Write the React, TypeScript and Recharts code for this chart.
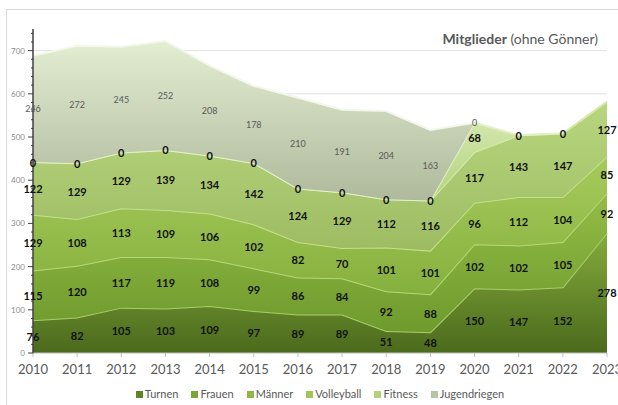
import { AreaChart, Area, XAxis, YAxis, CartesianGrid, Legend, LabelList } from 'recharts';

const years = ['2010', '2011', '2012', '2013', '2014', '2015', '2016', '2017', '2018', '2019', '2020', '2021', '2022', '2023'];
const turnen = [76, 82, 105, 103, 109, 97, 89, 89, 51, 48, 150, 147, 152, 278];
const frauen = [115, 120, 117, 119, 108, 99, 86, 84, 92, 88, 102, 102, 105, 92];
const maenner = [129, 108, 113, 109, 106, 102, 82, 70, 101, 101, 96, 112, 104, 85];
const volleyball = [122, 129, 129, 139, 134, 142, 124, 129, 112, 116, 117, 143, 147, 127];
const fitness = [0, 0, 0, 0, 0, 0, 0, 0, 0, 0, 68, 0, 0, null];
const jugendriegen = [246, 272, 245, 252, 208, 178, 210, 191, 204, 163, 0, null, null, null];

const yTicks = [0, 20, 40, 60, 80, 100, 120, 140, 160, 180, 200, 220, 240, 260, 280, 300, 320, 340, 360, 380,
  400, 420, 440, 460, 480, 500, 520, 540, 560, 580, 600, 620, 640, 660, 680, 700, 720, 740];
const gridValues = [100, 200, 300, 400, 500, 600, 700];

const data = years.map((year, i) => ({
  year,
  turnen: turnen[i],
  frauen: frauen[i],
  maenner: maenner[i],
  volleyball: volleyball[i],
  fitness: fitness[i],
  jugendriegen: jugendriegen[i],
}));

const series = [
  { key: 'turnen', name: 'Turnen', top: '#85ab3c', bottom: '#4b6a1c', line: '#a9cd6a', icon: '#5f8526' },
  { key: 'frauen', name: 'Frauen', top: '#93bc46', bottom: '#6f9a2d', line: '#b6d87c', icon: '#7aa534' },
  { key: 'maenner', name: 'Männer', top: '#a6cb5c', bottom: '#86b03e', line: '#c3e08c', icon: '#8fb943' },
  { key: 'volleyball', name: 'Volleyball', top: '#b8d67f', bottom: '#9dbc62', line: '#d5eaaa', icon: '#9fc656' },
  { key: 'fitness', name: 'Fitness', top: '#d2e6ab', bottom: '#b3d27c', line: '#e3f0c8', icon: '#b5cf7c' },
  { key: 'jugendriegen', name: 'Jugendriegen', top: '#e2edd2', bottom: '#afb99c', line: '#f2f7ea', icon: '#b9c4a4' },
];

// plot area height in px for the fixed margins below, used to centre labels in each band
const PLOT_H = 324;
const Y_MAX = 750;

const bandLabel = (small: boolean) => (props: any) => {
  const { x, y, value } = props;
  if (value == null || x == null || y == null) return null;
  const cy = y + (Number(value) * PLOT_H) / Y_MAX / 2;
  return (
    <text
      x={x}
      y={cy}
      textAnchor="middle"
      dominantBaseline="central"
      fontSize={small ? 9 : 11}
      fontWeight={small ? 400 : 700}
      fill={small ? '#595959' : '#111'}
    >
      {value}
    </text>
  );
};

const YTick = (props: any) => {
  const { x, y, payload } = props;
  const major = payload.value % 100 === 0;
  return (
    <g>
      <line x1={x - (major ? 5 : 2)} x2={x} y1={y} y2={y} stroke="#404040" strokeWidth={1} />
      {major && (
        <text x={x - 8} y={y} textAnchor="end" dominantBaseline="central" fontSize={8} fill="#8c8c8c">
          {payload.value}
        </text>
      )}
    </g>
  );
};

const renderLegend = () => (
  <div style={{ display: 'flex', justifyContent: 'center', paddingLeft: 30, fontSize: 11, color: '#595959', lineHeight: '16px' }}>
    {series.map((s, i) => (
      <span key={s.key} style={{ display: 'inline-flex', alignItems: 'center', marginRight: i === series.length - 1 ? 0 : 13 }}>
        <span style={{ width: 7, height: 7, background: s.icon, marginRight: 2, display: 'inline-block' }} />
        {s.name}
      </span>
    ))}
  </div>
);

export default function App() {
  return (
    <div style={{ position: 'fixed', left: 0, top: 0, width: 618, height: 405, overflow: 'hidden', background: '#fff', fontFamily: 'Lato, sans-serif' }}>
      <div style={{ position: 'absolute', left: 6, top: 9, width: 800, height: 600, border: '1px solid #d9d9d9' }} />
      <div style={{ position: 'absolute', left: 0, top: 0 }}>
        <AreaChart width={618} height={405} data={data} margin={{ top: 29, right: 11, left: 3, bottom: 3 }}>
          <defs>
            {series.map((s) => (
              <linearGradient key={s.key} id={`grad-${s.key}`} x1="0" y1="0" x2="0" y2="1">
                <stop offset="0%" stopColor={s.top} />
                <stop offset="100%" stopColor={s.bottom} />
              </linearGradient>
            ))}
          </defs>
          <CartesianGrid vertical={false} horizontalValues={gridValues} stroke="#e3e3e3" />
          <XAxis
            dataKey="year"
            height={33}
            tickSize={4}
            tickMargin={8}
            tick={{ fontSize: 13, fill: '#595959' }}
            axisLine={{ stroke: '#bfbfbf' }}
            tickLine={{ stroke: '#bfbfbf' }}
            interval={0}
          />
          <YAxis
            width={30}
            domain={[0, Y_MAX]}
            ticks={yTicks}
            interval={0}
            tickSize={0}
            tickMargin={0}
            tickLine={false}
            tick={<YTick />}
            axisLine={{ stroke: '#404040', strokeWidth: 1.5 }}
          />
          <Legend content={renderLegend} verticalAlign="bottom" height={16} />
          {series.map((s) => (
            <Area
              key={s.key}
              type="linear"
              dataKey={s.key}
              name={s.name}
              stackId="a"
              fill={`url(#grad-${s.key})`}
              fillOpacity={1}
              stroke={s.line}
              strokeWidth={2}
              isAnimationActive={false}
            >
              <LabelList dataKey={s.key} content={bandLabel(s.key === 'jugendriegen')} />
            </Area>
          ))}
        </AreaChart>
      </div>
      <div style={{ position: 'absolute', right: 20, top: 30, fontSize: 14, color: '#595959', whiteSpace: 'nowrap' }}>
        <b>Mitglieder</b> (ohne Gönner)
      </div>
    </div>
  );
}
